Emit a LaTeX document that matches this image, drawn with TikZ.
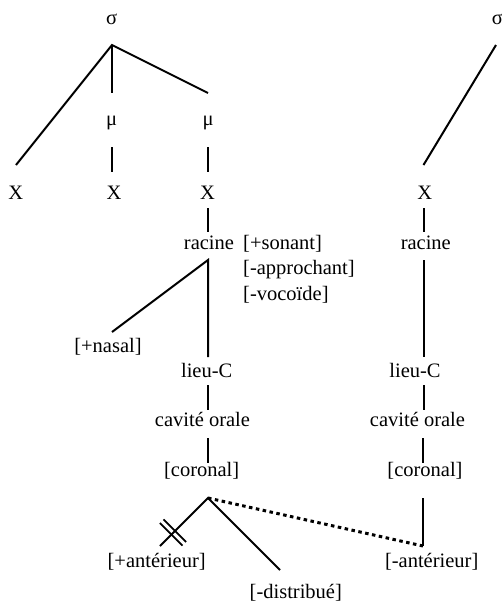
\documentclass[tikz,border=0pt]{standalone}
\usepackage{fontspec}
\setmainfont{Liberation Serif}
\begin{document}
\begin{tikzpicture}[x=1pt,y=-1pt,
  lbl/.style={inner sep=0pt,anchor=base,font=\fontsize{20.5}{24}\selectfont},
  feat/.style={lbl,anchor=base west},
  edge/.style={line width=2pt},
  assoc/.style={line width=3pt,dash pattern=on 3.5pt off 3.5pt},
  delink/.style={line width=1.8pt}]
\useasboundingbox (0,0) rectangle (502,606);
% labels
\node[lbl] (s1) at (111.7,24.5) {σ};
\node[lbl] (s2) at (497.5,24.5) {σ};
\node[lbl] (m1) at (111.7,125) {μ};
\node[lbl] (m2) at (208,125) {μ};
\node[lbl] (x1) at (15.8,199) {X};
\node[lbl] (x2) at (114,199) {X};
\node[lbl] (x3) at (207.5,199) {X};
\node[lbl] (x4) at (424.7,199) {X};
\node[lbl] (r1) at (209,249) {racine};
\node[feat] (f1) at (243,249) {[+sonant]};
\node[feat] (f2) at (243,274.5) {[-approchant]};
\node[feat] (f3) at (243,300) {[-vocoïde]};
\node[lbl] (r2) at (425.8,249) {racine};
\node[lbl] (nas) at (108,352) {[+nasal]};
\node[lbl] (l1) at (206.7,377) {lieu-C};
\node[lbl] (l2) at (415,377) {lieu-C};
\node[lbl] (c1) at (202.5,426) {cavité orale};
\node[lbl] (c2) at (417.5,426) {cavité orale};
\node[lbl] (k1) at (201.7,476.5) {[coronal]};
\node[lbl] (k2) at (425,476.5) {[coronal]};
\node[lbl] (a1) at (156.7,567) {[+antérieur]};
\node[lbl] (d1) at (295.8,598) {[-distribué]};
\node[lbl] (a2) at (431.7,567) {[-antérieur]};
% line end points
\coordinate (s1b) at (112,45);
\coordinate (x1t) at (16,165);
\coordinate (m1t) at (112,93);
\coordinate (m2t) at (208,93);
\coordinate (m1b) at (112,147);
\coordinate (x2t) at (112,172);
\coordinate (m2b) at (208,147);
\coordinate (x3t) at (208,172);
\coordinate (x3b) at (208,208);
\coordinate (r1t) at (208,232);
\coordinate (s2b) at (496,45);
\coordinate (x4t) at (423.5,165);
\coordinate (x4b) at (424,208);
\coordinate (r2t) at (424,232);
\coordinate (r1b) at (208,260);
\coordinate (nast) at (112,332);
\coordinate (l1t) at (208,357);
\coordinate (r2b) at (424,260);
\coordinate (l2t) at (424,357);
\coordinate (l1b) at (208,385);
\coordinate (c1t) at (208,410);
\coordinate (l2b) at (424,385);
\coordinate (c2t) at (424,410);
\coordinate (c1b) at (208,438);
\coordinate (k1t) at (208,463);
\coordinate (c2b) at (423,438);
\coordinate (k2t) at (423,463);
\coordinate (k1b) at (208,498);
\coordinate (a1t) at (160,546);
\coordinate (d1t) at (280,570);
\coordinate (k2b) at (423,498);
\coordinate (a2t) at (423,546);
% connectors
\draw[edge] (x1t) -- (s1b) -- (m2t);
\draw[edge] (s1b) -- (m1t);
\draw[edge] (m1b) -- (x2t);
\draw[edge] (m2b) -- (x3t);
\draw[edge] (x3b) -- (r1t);
\draw[edge] (s2b) -- (x4t);
\draw[edge] (x4b) -- (r2t);
\draw[edge] (nast) -- (r1b) -- (l1t);
\draw[edge] (r2b) -- (l2t);
\draw[edge] (l1b) -- (c1t);
\draw[edge] (l2b) -- (c2t);
\draw[edge] (c1b) -- (k1t);
\draw[edge] (c2b) -- (k2t);
\draw[edge] (a1t) -- (k1b) -- (d1t);
\draw[edge] (k2b) -- (a2t);
\draw[assoc] (k1b) -- (a2t);
% delinking marks
\draw[delink] (163.5,519.4) -- (186.1,542);
\draw[delink] (159.9,523) -- (182.5,545.6);
\end{tikzpicture}
\end{document}
